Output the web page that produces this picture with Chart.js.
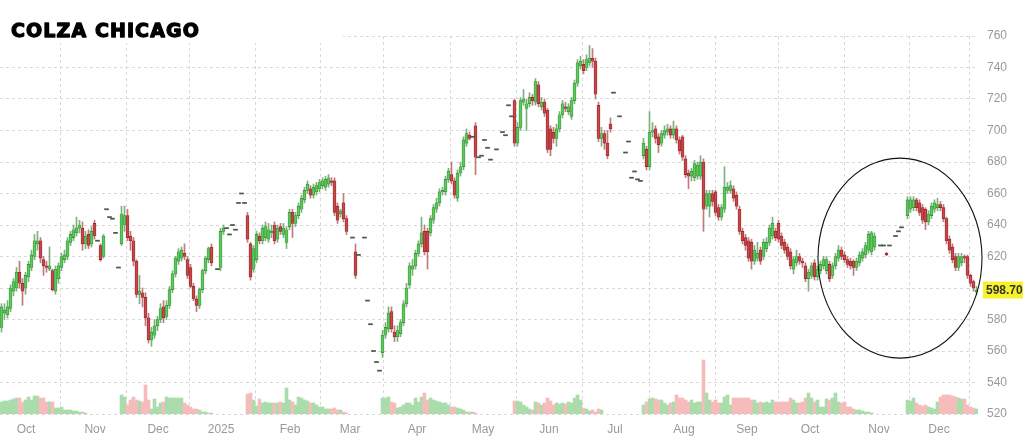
<!DOCTYPE html>
<html>
<head>
<meta charset="utf-8">
<title>Colza Chicago</title>
<script src="https://cdn.jsdelivr.net/npm/chart.js@4.4.1/dist/chart.umd.min.js"></script>
<style>
  html, body { margin: 0; padding: 0; background: #fff; }
  #wrap { width: 1024px; height: 437px; }
</style>
</head>
<body>
<div id="wrap"><canvas id="chart" width="1024" height="437"></canvas></div>
<script>
// month grid lines, in trading-day slots
const monthLabels = ["Oct", "Nov", "Dec", "2025", "Feb", "Mar", "Apr", "May", "Jun", "Jul", "Aug", "Sep", "Oct", "Nov", "Dec"];
const monthTicks = [8.2, 31.2, 52.2, 73.2, 96.2, 116.2, 138.5, 160.5, 182.5, 204.5, 227.5, 248.5, 269.5, 292.5, 312.5];

const priceTicks = [520, 540, 560, 580, 600, 620, 640, 660, 680, 700, 720, 740, 760];
const lastPrice = 598.70;

// one row per trading day: [open, high, low, close]; null = no trade
const candles = [
  // 0
  [575,590,572,588],[584,590,580,586],[583,592,581,588],[587,602,585,600],[598,606,595,604],
  [600,613,598,610],[610,617,600,603],[603,606,589,598],[600,610,596,608],[607,617,604,615],
  // 10
  [613,624,611,621],[620,634,618,630],[628,636,624,630],[630,632,616,619],[618,620,608,614],
  [614,617,610,613],[612,626,611,614],[611,612,598,599],[598,614,596,612],[606,616,603,614],
  // 20
  [613,622,611,620],[618,624,616,621],[620,632,618,630],[629,636,627,634],[632,640,630,637],
  [635,645,633,638],[638,643,635,640],[638,642,624,628],[628,636,625,633],[634,637,625,627],
  // 30
  [628,639,626,636],[641,643,631,633],[630,630,630,630],[627,628,617,618],[620,634,619,633],
  [650,650,650,650],[645,645,645,645],[644,644,644,644],[635,635,635,635],[613,613,613,613],
  // 40
  [628,652,627,647],[640,652,636,646],[646,650,630,632],[633,636,624,630],[630,632,614,617],
  [617,618,594,596],[596,608,590,598],[597,600,588,594],[594,597,576,581],[581,584,565,567],
  // 50
  [567,575,563,572],[570,580,568,576],[576,582,573,580],[580,590,578,587],[588,592,578,581],
  [582,592,580,589],[589,601,587,599],[599,611,597,609],[609,620,607,619],[617,625,615,623],
  // 60
  [619,626,617,624],[622,628,618,620],[618,620,606,608],[613,615,600,601],[601,603,592,593],
  [593,595,585,589],[589,600,587,599],[599,612,597,611],[611,620,609,619],[618,626,616,625],
  // 70
  [626,628,614,616],null,[612,612,612,612],[613,638,611,636],[636,640,634,638],
  [638,638,638,638],[634,634,634,634],[640,640,640,640],[637,637,637,637],[654,654,654,654],
  // 80
  [660,660,660,660],[654,654,654,654],[646,648,629,631],[628,629,605,607],[612,627,610,625],
  [618,636,616,634],[633,635,628,630],[630,640,628,638],[632,642,630,639],[631,641,629,637],
  // 90
  [635,640,632,636],[640,642,628,630],[631,640,629,638],[639,641,634,636],[634,641,632,638],
  [629,639,625,637],[639,650,637,648],[648,650,632,641],[641,648,639,646],[646,654,644,652],
  // 100
  [650,659,648,657],[656,664,654,662],[662,668,660,666],[663,665,657,659],[659,666,657,664],
  [661,667,659,665],[663,669,661,667],[665,670,663,668],[664,671,662,669],[666,672,664,670],
  // 110
  [668,670,665,667],[668,670,646,648],[652,654,641,643],[647,650,645,649],[654,660,642,644],
  [644,646,634,636],null,[632,632,632,632],[623,628,606,608],[621,621,621,621],
  // 120
  null,[632,632,632,632],[592,592,592,592],[577,577,577,577],[560,560,560,560],
  [553,553,553,553],[547.5,547.5,547.5,547.5],[559,573,556,570],[570,578,568,575],[574,588,572,584],
  // 130
  [585,588,572,574],[572,576,566,569],[569,576,566,573],[571,580,569,578],[578,592,576,590],
  [590,603,588,600],[602,616,600,614],[612,618,608,614],[614,624,612,622],[622,630,620,628],
  // 140
  [628,645,626,635],[636,640,621,623],[636,638,612,623],[635,646,633,644],[643,653,641,651],
  [650,657,648,654],[654,663,652,661],[661,664,659,662],[661,671,659,669],[669,676,667,674],
  // 150
  [672,680,666,668],[668,670,657,659],[657,675,655,673],[673,680,671,677],[677,696,675,694],
  [692,701,690,698],[697,699,694,695],[696,696,696,696],[703,705,672,683],[683,683,683,683],
  // 160
  [684,684,684,684],[694,694,694,694],[689,689,689,689],[681.5,681.5,681.5,681.5],null,
  [688,688,688,688],null,[699,699,699,699],[697,697,697,697],[716,716,716,716],
  // 170
  [709,709,709,709],[719,720,690,692],[692,705,690,702],[702,721,700,719],[718,726,716,720],
  [714,720,700,717],[717,724,715,721],[721,723,716,719],[718,733,716,731],[729,731,715,717],
  // 180
  [715,721,713,718],[718,720,709,711],[713,714,686,688],[701,703,684,688],[699,702,692,695],
  [695,704,690,701],[701,712,699,710],[710,719,708,717],[715,718,712,714],[712,717,710,715],
  // 190
  [709,721,707,719],[719,732,717,730],[730,745,728,743],[741,747,739,744],[742,745,736,738],
  [740,748,738,745],[743,754,741,746],[746,752,740,744],[744,746,720,723],[716,718,693,695],
  // 200
  [695,702,690,698],[698,700,688,692],[692,700,682,684],[704,708,699,701],[724,724,724,724],
  null,[709,709,709,709],null,[686,686,686,686],[693,693,693,693],
  // 210
  [670,670,670,670],[674,674,674,674],[669,669,669,669],[668,668,668,668],[684,695,682,692],
  [688,690,675,677],[677,712,675,699],[699,705,696,700],[701,703,692,695],[696,698,686,691],
  // 220
  [692,700,690,698],[697,703,695,700],[699,704,697,701],[701,703,695,697],[697,706,695,701],
  [701,703,692,694],[694,696,685,687],[696,697,681,683],[682,684,670,672],[673,675,663,671],
  // 230
  [671,676,668,674],[670,681,668,679],[671,680,669,678],[671,684,669,680],[680,682,636,650],
  [652,662,650,660],[652,662,645,660],[660,662,652,655],[661,662,646,648],[651,653,643,645],
  // 240
  [645,653,643,651],[650,677,648,664],[662,667,660,664],[662,668,660,665],[663,665,655,657],
  [659,661,650,652],[650,652,634,636],[636,638,628,630],[632,634,624,627],[630,632,617,619],
  // 250
  [629,631,612,617],[617,627,615,624],[619,629,617,622],[624,626,615,617],[620,631,618,629],
  [625,632,623,629],[629,640,627,638],[633,645,631,641],[636,638,630,632],[641,643,629,631],
  // 260
  [633,635,625,627],[629,631,622,624],[626,628,618,620],[623,625,612,614],[612,620,609,618],
  [616,624,614,620],[620,622,615,617],[617,619,613,616],[614,616,604,606],[606,612,598,610],
  // 270
  [608,616,606,614],[616,618,605,607],[607,614,605,612],[611,617,609,615],[614,620,612,618],
  [611,620,609,618],[615,617,604,606],[608,616,606,614],[614,622,612,620],[619,627,617,624],
  // 280
  [624,626,618,620],[621,623,616,618],[618,620,613,615],[617,619,612,614],[617,618,608,613],
  [613,619,611,617],[616,623,614,621],[619,625,617,623],[621,629,619,627],[624,636,622,634],
  // 290
  [623,636,621,635],[626,635,624,633],null,[627,627,627,627],[627,627,627,627],
  [622,622.5,620.5,621],[627,627,627,627],null,[633,633,633,633],[636,636,636,636],
  // 300
  [638.5,638.5,638.5,638.5],null,[646,658,644,656],[650,658,648,656],[651,658,649,656],
  [656,657,649,651],[654,656,646,648],[651,653,641,643],[650,651,637,642],[642,649,640,647],
  // 310
  [646,654,644,652],[650,656,648,654],[651,657,649,653],[653,655,649,651],[651,653,642,644],
  [644,645,628,630],[631,633,622,624],[626,628,616,618],[620,622,611,613],[613,622,611,620],
  // 320
  [616,622,614,620],[620,621,616,619],[620,621,606,608],[608,609,601,603],[604,605,598,600],
  [597.5,601,596,598.7]
];

// traded volume per day (arbitrary units), 0 = none
const volumes = [
  12,13,13,14,15,16,16,12,14,17, 14,18,18,16,16,12,12,12,6,6,
  7,4,4,4,3,3,2,2,1,0, 0,0,0,0,0,0,0,0,0,0,
  19,17,9,14,17,14,13,12,29,14, 5,15,7,11,12,17,16,16,16,16,
  16,11,9,7,5,5,4,2,2,1, 1,0,0,0,0,0,0,0,0,0,
  0,0,20,21,14,8,15,11,12,11, 11,11,11,12,11,26,14,12,9,17,
  16,14,13,11,11,9,7,7,5,5, 5,6,4,4,2,1,0,0,0,0,
  0,0,0,0,0,0,0,16,16,17, 12,11,6,7,9,11,11,9,16,12,
  17,21,14,16,14,13,12,11,11,9, 7,7,6,5,4,2,2,2,1,0,
  0,0,0,0,0,0,0,0,0,0, 0,13,13,12,9,7,5,4,12,11,
  9,11,16,13,9,11,10,11,10,12, 11,16,19,14,6,5,3,4,2,5,
  4,0,0,0,0,0,0,0,0,0, 0,0,0,0,9,12,15,16,15,14,
  14,11,9,11,12,19,16,16,14,12, 14,11,12,12,54,21,14,12,14,11,
  11,17,19,9,16,16,16,16,16,16, 14,14,11,12,11,12,11,14,12,12,
  12,12,12,16,14,11,11,12,16,21, 16,12,14,7,7,15,14,16,21,12,
  11,12,7,7,5,4,4,3,2,2, 1,0,0,0,0,0,0,0,0,0,
  0,0,14,13,16,11,9,8,9,7, 6,5,12,17,19,19,19,18,17,16,
  15,15,9,7,6,5
];

const UP_FILL = "#5fc95f", UP_LINE = "#2f8f2f", UP_WICK = "#7fae7f";
const DN_FILL = "#c8474a", DN_LINE = "#8f2326", DN_WICK = "#c07a7a";
const DASH = "#4b5a4b";
const VOL_UP = "#abdcab", VOL_DN = "#f6bcbc";

const wicks = [], bodies = [], dashes = [], vols = [];
candles.forEach((c, i) => {
  if (!c) return;
  const [o, h, l, cl] = c;
  const up = cl >= o;
  if (h === l) {
    dashes.push({ x: i, y: [cl - 0.35, cl + 0.35] });
  } else {
    wicks.push({ x: i, y: [l, h], up: up });
    let lo = Math.min(o, cl), hi = Math.max(o, cl);
    if (hi - lo < 0.8) { const m = (hi + lo) / 2; lo = m - 0.4; hi = m + 0.4; }
    bodies.push({ x: i, y: [lo, hi], up: up });
  }
  if (volumes[i] > 0) vols.push({ x: i, y: volumes[i], up: up });
});

const overlay = {
  id: "overlay",
  afterDraw(chart) {
    const ctx = chart.ctx;
    const xs = chart.scales.x, ys = chart.scales.y;
    ctx.save();

    // title block
    ctx.fillStyle = "#fff";
    ctx.fillRect(0, 0, 343, 43);
    ctx.fillStyle = "#000";
    ctx.strokeStyle = "#000";
    ctx.font = "bold 19px 'DejaVu Sans', Arial, sans-serif";
    ctx.letterSpacing = "1.1px";
    ctx.textBaseline = "alphabetic";
    ctx.textAlign = "left";
    ctx.lineWidth = 1.3;
    ctx.lineJoin = "round";
    ctx.fillText("COLZA CHICAGO", 11, 37);
    ctx.strokeText("COLZA CHICAGO", 11, 37);
    ctx.letterSpacing = "0px";

    // circle around the last weeks
    ctx.beginPath();
    ctx.ellipse(xs.getPixelForValue(299.5), ys.getPixelForValue(619), 82, 100, 0, 0, Math.PI * 2);
    ctx.lineWidth = 1.1;
    ctx.strokeStyle = "#111";
    ctx.stroke();

    // last price tag
    const py = ys.getPixelForValue(lastPrice);
    ctx.fillStyle = "#f7f32a";
    ctx.fillRect(983, py - 8.5, 40, 17);
    ctx.fillStyle = "#333";
    ctx.font = "bold 12px 'Liberation Sans', Arial, sans-serif";
    ctx.textBaseline = "middle";
    ctx.fillText(lastPrice.toFixed(2), 986, py + 0.5);
    ctx.restore();
  }
};

new Chart(document.getElementById("chart"), {
  type: "bar",
  data: {
    datasets: [
      {
        data: dashes, xAxisID: "x", yAxisID: "y", order: 0, grouped: false,
        barThickness: 4, backgroundColor: DASH, borderWidth: 0,
      },
      {
        data: bodies, xAxisID: "x", yAxisID: "y", order: 1, grouped: false,
        barThickness: 3, borderWidth: 0.7, borderSkipped: false,
        backgroundColor: (c) => (c.raw && c.raw.up ? UP_FILL : DN_FILL),
        borderColor: (c) => (c.raw && c.raw.up ? UP_LINE : DN_LINE),
      },
      {
        data: wicks, xAxisID: "x", yAxisID: "y", order: 2, grouped: false,
        barThickness: 1, borderWidth: 0,
        backgroundColor: (c) => (c.raw && c.raw.up ? UP_WICK : DN_WICK),
      },
      {
        data: vols, xAxisID: "x", yAxisID: "yv", order: 3, grouped: false,
        barThickness: 3, borderWidth: 0,
        backgroundColor: (c) => (c.raw && c.raw.up ? VOL_UP : VOL_DN),
      },
    ],
  },
  options: {
    responsive: false,
    devicePixelRatio: 1,
    animation: false,
    layout: { padding: { top: 36, left: 0, right: 0, bottom: 0 } },
    plugins: { legend: { display: false }, tooltip: { enabled: false } },
    scales: {
      x: {
        type: "linear",
        min: -0.5,
        max: candles.length - 0.5,
        offset: false,
        afterBuildTicks: (scale) => { scale.ticks = monthTicks.map((v) => ({ value: v })); },
        afterFit: (scale) => { scale.height = 23; },
        grid: { color: "#d9d9d9", lineWidth: 1, drawTicks: false },
        border: { display: false, dash: [3, 3] },
        ticks: {
          autoSkip: false, maxRotation: 0, padding: 8, color: "#999",
          font: { family: "'Liberation Sans', Arial, sans-serif", size: 12 },
          callback: (v, i) => monthLabels[i],
        },
      },
      y: {
        position: "right",
        min: 520,
        max: 760,
        afterBuildTicks: (scale) => { scale.ticks = priceTicks.map((v) => ({ value: v })); },
        afterFit: (scale) => { scale.width = 46; },
        grid: { color: "#d9d9d9", lineWidth: 1, drawTicks: false },
        border: { display: false, dash: [3, 3] },
        ticks: {
          padding: 9, color: "#999",
          font: { family: "'Liberation Sans', Arial, sans-serif", size: 12 },
        },
      },
      yv: {
        display: false,
        min: 0,
        max: 378,
      },
    },
  },
  plugins: [overlay],
});
</script>
</body>
</html>
